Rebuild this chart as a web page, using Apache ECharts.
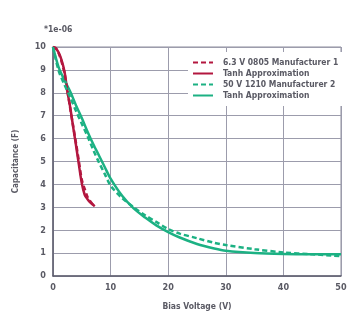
<!DOCTYPE html>
<html>
<head>
<meta charset="utf-8">
<script src="https://cdn.jsdelivr.net/npm/echarts@6/dist/echarts.min.js"></script>
<style>
  html, body { margin: 0; padding: 0; background: #fff; }
  #chart { width: 359px; height: 322px; }
</style>
</head>
<body>
<div id="chart"></div>
<script>
// Bias voltage (V) sample points and capacitance (µF, axis scaled by 1e-06)
const redMeasuredV = [0, 0.5, 1, 1.5, 2, 2.5, 3, 3.5, 4, 4.5, 5, 5.5, 6, 6.5, 7];
const redMeasuredC = [10, 9.95, 9.72, 9.35, 8.85, 8.1, 7.3, 6.55, 5.8, 5.0, 4.2, 3.8, 3.45, 3.25, 3.1];

const redTanhV = [0, 0.5, 1, 1.5, 2, 2.5, 3, 3.5, 4, 4.5, 5, 5.5, 6, 6.5, 7, 7.25];
const redTanhC = [10, 9.93, 9.75, 9.42, 8.92, 8.05, 7.35, 6.5, 5.7, 4.85, 4.05, 3.55, 3.35, 3.2, 3.1, 3.05];

const greenMeasuredV = [0, 1, 2, 3, 4, 5, 6, 7, 8, 9, 10, 12, 14, 16, 18, 20, 22, 25, 28, 30, 35, 40, 45, 50];
const greenMeasuredC = [10, 8.95, 8.35, 7.8, 7.2, 6.65, 6.1, 5.5, 4.95, 4.45, 3.95, 3.4, 3.0, 2.65, 2.35, 2.05, 1.85, 1.65, 1.45, 1.35, 1.17, 1.03, 0.95, 0.87];

const greenTanhV = [0, 1, 2, 3, 4, 5, 6, 7, 8, 9, 10, 12, 14, 16, 18, 20, 22, 25, 28, 30, 35, 40, 45, 50];
const greenTanhC = [10, 9.1, 8.55, 8.05, 7.45, 6.9, 6.3, 5.75, 5.25, 4.75, 4.25, 3.5, 2.95, 2.55, 2.2, 1.92, 1.68, 1.4, 1.2, 1.1, 1.0, 0.96, 0.95, 0.95];

const seriesNames = ['6.3 V 0805 Manufacturer 1', 'Tanh Approximation', '50 V 1210 Manufacturer 2', 'Tanh Approximation '];
const xTicks = [0, 10, 20, 30, 40, 50];
const yTicks = [0, 1, 2, 3, 4, 5, 6, 7, 8, 9, 10];

const RED = '#b3173f';
const GREEN = '#1cb183';
const FONT = '"Liberation Sans Narrow", "DejaVu Sans Condensed", sans-serif';
const TEXT = '#5a5a64';

const pairs = (xs, ys) => xs.map((x, i) => [x, ys[i]]);

const lineSeries = (name, xs, ys, color, dashed) => ({
  name: name,
  type: 'line',
  data: pairs(xs, ys),
  showSymbol: false,
  symbol: 'none',
  smooth: 0.3,
  lineStyle: { color: color, width: 2.5, type: dashed ? [5, 3] : 'solid' },
  itemStyle: { color: color },
  z: dashed ? 3 : 2
});

const chart = echarts.init(document.getElementById('chart'), null, { renderer: 'canvas' });
chart.setOption({
  animation: false,
  backgroundColor: '#fff',
  grid: { left: 53, top: 47, right: 18, bottom: 46, show: true, borderColor: '#8c8c9c', borderWidth: 1 },
  title: {
    text: '*1e-06',
    left: 39, top: 20,
    textStyle: { fontFamily: FONT, fontSize: 8.5, fontWeight: 'bold', color: TEXT }
  },
  legend: {
    orient: 'vertical',
    left: 188, top: 52,
    padding: [6, 7, 6, 4],
    backgroundColor: '#ffffff',
    itemWidth: 20, itemHeight: 10, itemGap: 2,
    itemStyle: { color: 'transparent', borderWidth: 0, opacity: 0 },
    textStyle: { fontFamily: FONT, fontSize: 8.5, fontWeight: 'bold', color: TEXT, padding: [0, 0, 0, 5] },
    data: seriesNames
  },
  xAxis: {
    type: 'value', min: xTicks[0], max: xTicks[xTicks.length - 1], interval: 10,
    name: 'Bias Voltage (V)', nameLocation: 'middle', nameGap: 26,
    nameTextStyle: { fontFamily: FONT, fontSize: 8.5, fontWeight: 'bold', color: TEXT },
    axisLine: { show: true, lineStyle: { color: '#5c5c6c', width: 1.5 } },
    axisTick: { show: false },
    axisLabel: { fontFamily: FONT, fontSize: 9, fontWeight: 'bold', color: TEXT, margin: 7,
      formatter: v => xTicks.includes(v) ? String(v) : '' },
    splitLine: { show: true, lineStyle: { color: '#9c9cac', width: 1 } }
  },
  yAxis: {
    type: 'value', min: yTicks[0], max: yTicks[yTicks.length - 1], interval: 1,
    name: 'Capacitance (F)', nameLocation: 'middle', nameGap: 33,
    nameTextStyle: { fontFamily: FONT, fontSize: 8, fontWeight: 'bold', color: TEXT },
    axisLine: { show: true, lineStyle: { color: '#5c5c6c', width: 1.5 } },
    axisTick: { show: false },
    axisLabel: { fontFamily: FONT, fontSize: 9, fontWeight: 'bold', color: TEXT, margin: 7,
      formatter: v => yTicks.includes(v) ? String(v) : '' },
    splitLine: { show: true, lineStyle: { color: '#9c9cac', width: 1 } }
  },
  series: [
    lineSeries(seriesNames[0], redMeasuredV, redMeasuredC, RED, true),
    lineSeries(seriesNames[1], redTanhV, redTanhC, RED, false),
    lineSeries(seriesNames[2], greenMeasuredV, greenMeasuredC, GREEN, true),
    lineSeries(seriesNames[3], greenTanhV, greenTanhC, GREEN, false)
  ]
});
</script>
</body>
</html>
